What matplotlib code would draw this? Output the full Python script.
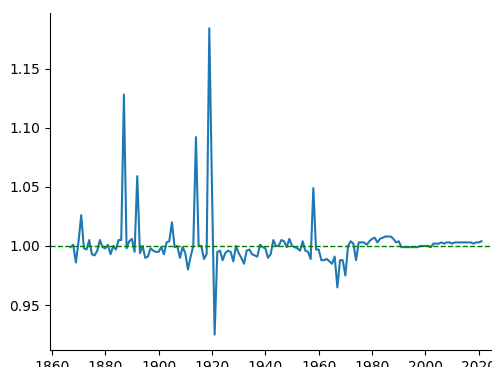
import numpy as np
import matplotlib.pyplot as plt

years = np.arange(1867, 2022)

values = [
    0.999, 1.001, 0.986, 1.004, 1.026, 0.998, 0.997, 1.005, 0.993, 0.992,  # 1867-1876
    0.996, 1.005, 0.999, 0.998, 1.001, 0.993, 1.000, 0.997, 1.005, 1.005,  # 1877-1886
    1.128, 0.998, 1.004, 1.006, 0.995, 1.059, 0.994, 1.000, 0.990, 0.991,  # 1887-1896
    0.998, 0.996, 0.995, 0.995, 0.999, 0.993, 1.003, 1.004, 1.020, 0.999,  # 1897-1906
    1.000, 0.990, 0.999, 0.994, 0.980, 0.991, 1.000, 1.092, 1.000, 1.000,  # 1907-1916
    0.989, 0.993, 1.184, 1.050, 0.925, 0.995, 0.996, 0.988, 0.994, 0.996,  # 1917-1926
    0.995, 0.987, 1.000, 0.994, 0.990, 0.985, 0.996, 0.997, 0.993, 0.992,  # 1927-1936
    0.991, 1.001, 0.999, 0.998, 0.990, 0.993, 1.005, 1.000, 1.000, 1.005,  # 1937-1946
    1.004, 0.999, 1.006, 1.000, 0.999, 0.998, 0.996, 1.004, 0.996, 0.995,  # 1947-1956
    0.989, 1.049, 0.997, 0.997, 0.988, 0.988, 0.989, 0.987, 0.985, 0.991,  # 1957-1966
    0.965, 0.988, 0.988, 0.975, 1.000, 1.004, 1.002, 0.988, 1.003, 1.003,  # 1967-1976
    1.003, 1.001, 1.004, 1.006, 1.007, 1.003, 1.006, 1.007, 1.008, 1.008,  # 1977-1986
    1.008, 1.006, 1.003, 1.004, 0.999, 0.999, 0.999, 0.999, 0.999, 0.999,  # 1987-1996
    0.999, 1.000, 1.000, 1.000, 1.000, 0.999, 1.002, 1.002, 1.002, 1.003,  # 1997-2006
    1.002, 1.003, 1.003, 1.002, 1.003, 1.003, 1.003, 1.003, 1.003, 1.003,  # 2007-2016
    1.003, 1.002, 1.003, 1.003, 1.004,                                     # 2017-2021
]

fig = plt.figure(figsize=(4.92, 3.67), dpi=100)
ax = fig.add_axes([50 / 492, 17 / 367, 452 / 492, 337 / 367])

ax.plot(years, values)
ax.axhline(1.0, color="green", linestyle="--", linewidth=1)

ax.spines["top"].set_visible(False)
ax.spines["right"].set_visible(False)
ax.set_xticks(np.arange(1860, 2021, 20))

fig.savefig("out.png", dpi=100)
